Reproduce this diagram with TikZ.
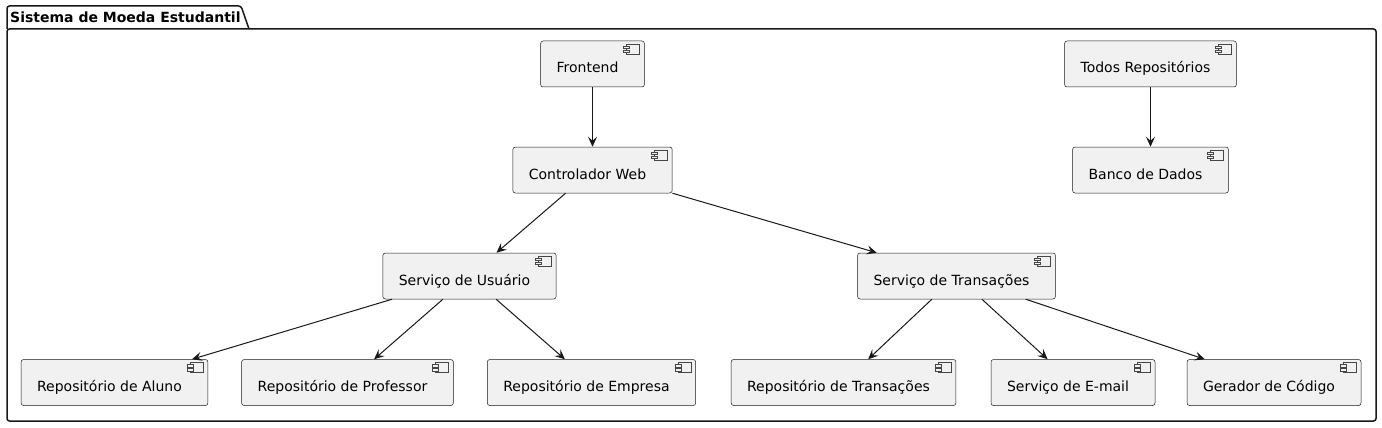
\documentclass[tikz,border=0pt]{standalone}
\usepackage{fontspec}
\setmainfont{DejaVu Sans}
\usetikzlibrary{arrows.meta}
\definecolor{lineclr}{HTML}{181818}
\definecolor{boxfill}{HTML}{F1F1F1}

\begin{document}
\begin{tikzpicture}[
      x = 1pt, y = -1pt,
      comp/.style = {
        draw = lineclr, fill = boxfill, line width = .5pt,
        rounded corners = 2.5pt, inner xsep = 16pt, inner ysep = 0pt,
        minimum height = 46pt, text height = 18pt, text depth = 0pt,
        font = \fontsize{14}{16}\selectfont,
        execute at end node = {\hspace{10pt}}},
      link/.style = {
        draw = lineclr, line width = 1pt,
        -{Stealth[length = 10pt, width = 9pt, inset = 4pt]}}
      ]
    \useasboundingbox (0,0) rectangle (1382,428);

    % package frame
    \draw[lineclr, line width = 1.5pt, rounded corners = 2.5pt]
      (7,29) rectangle (1376,421);
    \draw[lineclr, line width = 1.5pt, rounded corners = 2.5pt]
      (7,29) -- (7,6) -- (241,6) -- (249,29);
    \node[anchor = west, inner sep = 0pt,
      font = \fontsize{14}{16}\selectfont\bfseries] (pkg) at (10,17.5)
      {Sistema de Moeda Estudantil};

    \node[comp] (front) at (592.5,64) {Frontend}; % 0
    \node[comp] (ctrl) at (592.5,170) {Controlador Web}; % 1
    \node[comp] (todos) at (1150.5,64) {Todos Repositórios}; % 2
    \node[comp] (banco) at (1150.5,170) {Banco de Dados}; % 3
    \node[comp] (usu) at (469.5,276) {Serviço de Usuário}; % 4
    \node[comp] (trans) at (956.5,276) {Serviço de Transações}; % 5
    \node[comp] (aluno) at (114.5,382.5) {Repositório de Aluno}; % 6
    \node[comp] (prof) at (347.5,382.5) {Repositório de Professor}; % 7
    \node[comp] (emp) at (591.5,382.5) {Repositório de Empresa}; % 8
    \node[comp] (rtrans) at (843.5,382.5) {Repositório de Transações}; % 9
    \node[comp] (email) at (1073,382.5) {Serviço de E-mail}; % 10
    \node[comp] (ger) at (1274,382.5) {Gerador de Código}; % 11

    % component icons
    \foreach \n in {front,ctrl,todos,banco,usu,trans,aluno,prof,emp,rtrans,email,ger}{
      \begin{scope}[shift = {(\n.north east)}, draw = lineclr!80,
          fill = boxfill, line width = .4pt]
        \draw (-18,3) rectangle (-5,13);
        \filldraw (-21,5) rectangle (-15,7.5);
        \filldraw (-21,9) rectangle (-15,11.5);
      \end{scope}
    }

    \draw[link] (front)--(ctrl);
    \draw[link] (todos)--(banco);
    \draw[link] (ctrl)--(usu);
    \draw[link] (ctrl)--(trans);
    \draw[link] (usu)--(aluno);
    \draw[link] (usu)--(prof);
    \draw[link] (usu)--(emp);
    \draw[link] (trans)--(rtrans);
    \draw[link] (trans)--(email);
    \draw[link] (trans)--(ger);
  \end{tikzpicture}
\end{document}
